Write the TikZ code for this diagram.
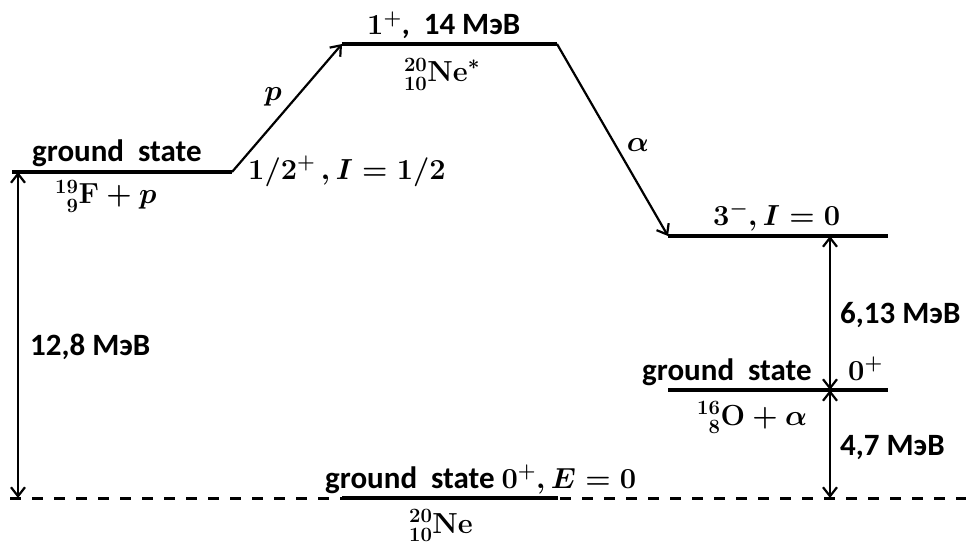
\RequirePackage{fix-cm}
\documentclass[tikz,border=0pt]{standalone}
\usepackage{fontspec}
\newfontfamily\calib{Carlito}
\usetikzlibrary{arrows.meta}
\newcommand{\bm}[1]{\mbox{\fontsize{29}{32}\selectfont\boldmath$#1$}}
\begin{document}
\begin{tikzpicture}[x=1pt,y=-1pt,
  lvl/.style={line width=4pt},
  arr/.style={line width=2.2pt,-{Straight Barb[length=9pt,width=14pt,line width=2.2pt]}},
  darr/.style={line width=2.2pt,{Straight Barb[length=9pt,width=14pt,line width=2.2pt]}-{Straight Barb[length=9pt,width=14pt,line width=2.2pt]}},
  dline/.style={line width=3pt,dash pattern=on 11pt off 11pt},
  sf/.style={font=\fontsize{31}{34}\calib\bfseries, inner sep=0pt},
  mt/.style={font=\fontsize{29}{32}\selectfont\boldmath, inner sep=0pt}]
\useasboundingbox (0,0) rectangle (968,548);
% level end points
\coordinate (FL) at (12,172);  \coordinate (FR) at (232,172);
\coordinate (NsL) at (342,44); \coordinate (NsR) at (557,44);
\coordinate (TL) at (668,236); \coordinate (TR) at (888,236);
\coordinate (OL) at (668,390); \coordinate (OR) at (888,390);
\coordinate (GL) at (342,498); \coordinate (GR) at (558,498);
\coordinate (DL) at (10,498);  \coordinate (DR) at (966,498);
\coordinate (A1) at (18,172);  \coordinate (A2) at (18,498);
\coordinate (B1) at (830,236); \coordinate (B2) at (830,390); \coordinate (B3) at (830,498);
% dashed baseline and levels
\draw[dline] (DL) -- (DR);
\draw[lvl] (FL) -- (FR);
\draw[lvl] (NsL) -- (NsR);
\draw[lvl] (TL) -- (TR);
\draw[lvl] (OL) -- (OR);
\draw[lvl] (GL) -- (GR);
% transitions
\draw[arr] (FR) -- (NsL);
\draw[arr] (NsR) -- (TL);
% energy spacings
\draw[darr] (A1) -- (A2);
\draw[darr] (B1) -- (B2);
\draw[darr] (B3) -- (B2);
% labels
\node[sf,anchor=base west] (t1) at (32,162) {ground\ \ state};
\node[mt,anchor=base west] (t2) at (55,204) {${}^{19}_{\phantom{1}9}\mathbf{F}+p$};
\node[mt,anchor=base west] (t3) at (248,179) {$1/2^{+}\,,I=1/2$};
\node[mt] (t4) at (273,97) {$p$};
\node[sf,anchor=base west] (t5) at (367,35) {\bm{1^{+}},\ \ 14 МэВ};
\node[mt,anchor=base] (t6) at (442,82) {${}^{20}_{10}\mathbf{Ne}^{*}$};
\node[mt] (t7) at (638,145) {$\alpha$};
\node[mt,anchor=base west] (t8) at (713,225) {$3^{-},I=0$};
\node[sf,anchor=base west] (t9) at (840,323) {6,13 МэВ};
\node[sf,anchor=base west] (t10) at (642,380) {ground\ \ state};
\node[mt,anchor=base west] (t11) at (848,380) {$0^{+}$};
\node[mt,anchor=base west] (t12) at (697,425) {${}^{16}_{\phantom{1}8}\mathbf{O}+\alpha$};
\node[sf,anchor=base west] (t13) at (840,455) {4,7 МэВ};
\node[sf,anchor=base west] (t14) at (30,355) {12,8 МэВ};
\node[sf,anchor=base west] (t15) at (325,488) {ground\ \ state \bm{0^{+},E=0}};
\node[mt,anchor=base] (t16) at (441,533) {${}^{20}_{10}\mathbf{Ne}$};
\end{tikzpicture}
\end{document}
